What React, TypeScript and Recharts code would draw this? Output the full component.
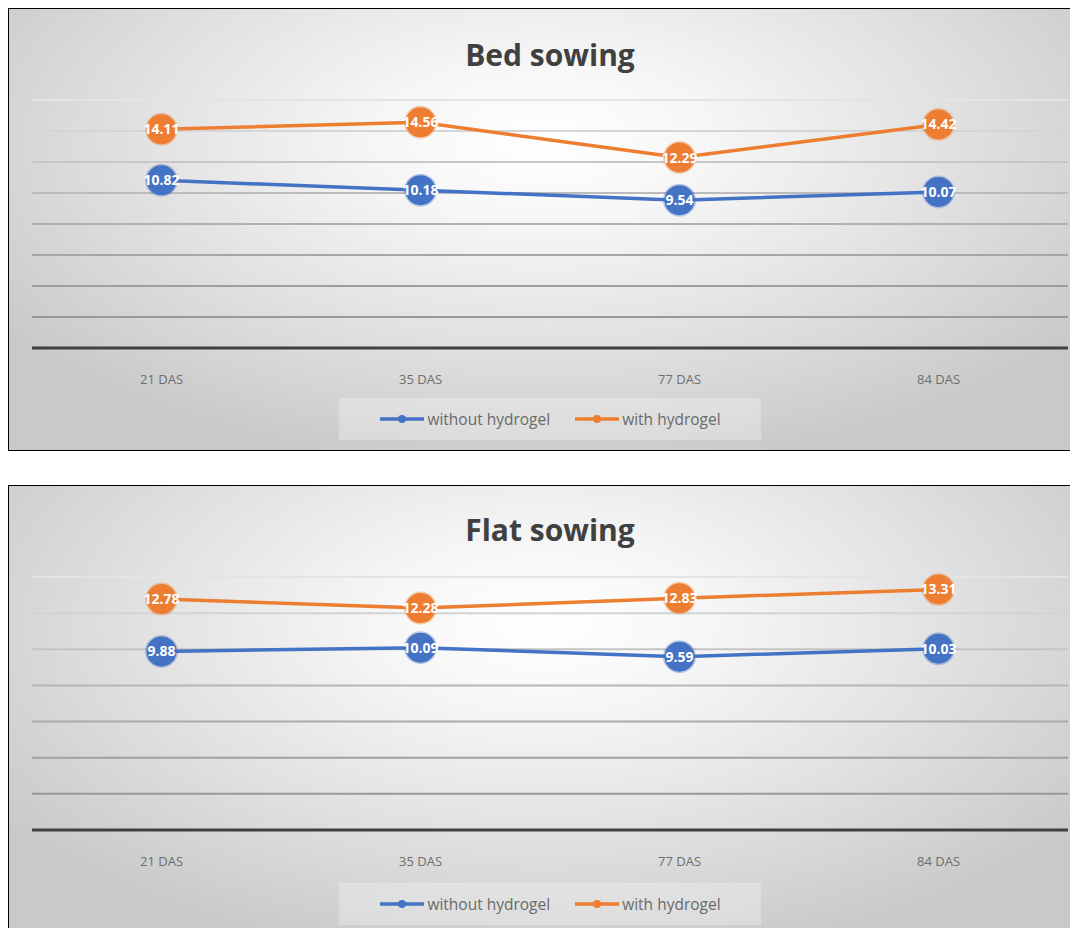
import React from 'react';
import { LineChart, Line, XAxis, YAxis, ReferenceLine, Legend, LabelList } from 'recharts';

const categories = ['21 DAS', '35 DAS', '77 DAS', '84 DAS'];
const bedWithout = [10.82, 10.18, 9.54, 10.07];
const bedWith = [14.11, 14.56, 12.29, 14.42];
const flatWithout = [9.88, 10.09, 9.59, 10.03];
const flatWith = [12.78, 12.28, 12.83, 13.31];
const bedTicks = [0, 2, 4, 6, 8, 10, 12, 14, 16];
const flatTicks = [0, 2, 4, 6, 8, 10, 12, 14];
const seriesNames = ['without hydrogel', 'with hydrogel'];

const BLUE = '#4472C4';
const ORANGE = '#ED7D31';
const FONT = '"Open Sans", "Liberation Sans", sans-serif';

function gridColor(frac: number) {
  const lo = 150, hi = 228;
  const v = Math.round(lo + (hi - lo) * Math.pow(frac, 1.6));
  return `rgb(${v},${v},${v})`;
}

const Dot = (color: string) => (props: any) => {
  const { cx, cy } = props;
  if (cx == null || cy == null) return null;
  return <circle cx={cx} cy={cy} r={15} fill={color} stroke={color} strokeOpacity={0.35} strokeWidth={3} />;
};

const ValueLabel = (props: any) => {
  const { x, y, value } = props;
  return (
    <text x={x} y={y} dy={5} textAnchor="middle" fill="#ffffff" fontFamily={FONT} fontWeight={700} fontSize={14}>
      {value}
    </text>
  );
};

const LegendContent = () => (
  <div style={{ display: 'flex', justifyContent: 'center' }}>
    <div
      style={{
        width: 422,
        height: 42,
        background: 'rgba(255,255,255,0.28)',
        display: 'flex',
        alignItems: 'center',
        justifyContent: 'center',
        gap: 24,
        fontFamily: FONT,
        fontSize: 15.5,
        color: '#6a6a6a',
      }}
    >
      {[BLUE, ORANGE].map((c, i) => (
        <div key={i} style={{ display: 'flex', alignItems: 'center' }}>
          <svg width={46} height={12}>
            <line x1={1} y1={6} x2={45} y2={6} stroke={c} strokeWidth={3.5} />
            <circle cx={23} cy={6} r={4} fill={c} />
          </svg>
          <span style={{ marginLeft: 2 }}>{seriesNames[i]}</span>
        </div>
      ))}
    </div>
  </div>
);

type ChartProps = {
  title: string;
  without: number[];
  withH: number[];
  ticks: number[];
  plotTop: number;
  axisY: number;
  legendBottom: number;
  height: number;
  titleTop: number;
  borderBottom: boolean;
};

function SowingChart({ title, without, withH, ticks, plotTop, axisY, legendBottom, height, titleTop, borderBottom }: ChartProps) {
  const data = categories.map((c, i) => ({ cat: c, without: without[i], withH: withH[i] }));
  const max = ticks[ticks.length - 1];
  const marginBottom = height - legendBottom;
  const xAxisHeight = legendBottom - 42 - axisY;
  return (
    <div
      style={{
        position: 'relative',
        width: 1069,
        height,
        borderLeft: '1px solid #000',
        borderTop: '1px solid #000',
        borderBottom: borderBottom ? '1px solid #000' : 'none',
        background: 'radial-gradient(ellipse 62% 75% at 50% 30%, #ffffff 0%, #f6f6f6 25%, #e2e2e2 60%, #c9c9c9 100%)',
        overflow: 'hidden',
      }}
    >
      <div
        style={{
          position: 'absolute',
          top: titleTop,
          left: 0,
          width: 1082,
          textAlign: 'center',
          fontFamily: FONT,
          fontWeight: 700,
          fontSize: 30,
          color: '#404040',
          lineHeight: '36px',
        }}
      >
        {title}
      </div>
      <LineChart width={1069} height={height} data={data} margin={{ top: plotTop, right: 10, left: 23, bottom: marginBottom }}>
        {ticks.slice(1).map((t) => (
          <ReferenceLine key={t} y={t} stroke={gridColor(t / max)} strokeWidth={2} />
        ))}
        <XAxis
          dataKey="cat"
          scale="band"
          axisLine={{ stroke: '#404040', strokeWidth: 3 }}
          tickLine={false}
          tickMargin={21}
          height={xAxisHeight}
          tick={{ fill: '#6e6e6e', fontFamily: FONT, fontSize: 13 }}
        />
        <YAxis hide domain={[0, max]} ticks={ticks} />
        <Legend verticalAlign="bottom" height={42} content={<LegendContent />} />
        <Line
          dataKey="without"
          name={seriesNames[0]}
          stroke={BLUE}
          strokeWidth={3.5}
          dot={Dot(BLUE)}
          isAnimationActive={false}
        >
          <LabelList dataKey="without" content={<ValueLabel />} />
        </Line>
        <Line
          dataKey="withH"
          name={seriesNames[1]}
          stroke={ORANGE}
          strokeWidth={3.5}
          dot={Dot(ORANGE)}
          isAnimationActive={false}
        >
          <LabelList dataKey="withH" content={<ValueLabel />} />
        </Line>
      </LineChart>
    </div>
  );
}

export default function App() {
  return (
    <div>
      <style>{`html,body{overflow:hidden}`}</style>
      <SowingChart
        title="Bed sowing"
        without={bedWithout}
        withH={bedWith}
        ticks={bedTicks}
        plotTop={91}
        axisY={339}
        legendBottom={431}
        height={441}
        titleTop={28}
        borderBottom={true}
      />
      <div style={{ height: 34 }} />
      <SowingChart
        title="Flat sowing"
        without={flatWithout}
        withH={flatWith}
        ticks={flatTicks}
        plotTop={91}
        axisY={344}
        legendBottom={439}
        height={460}
        titleTop={26}
        borderBottom={false}
      />
    </div>
  );
}
